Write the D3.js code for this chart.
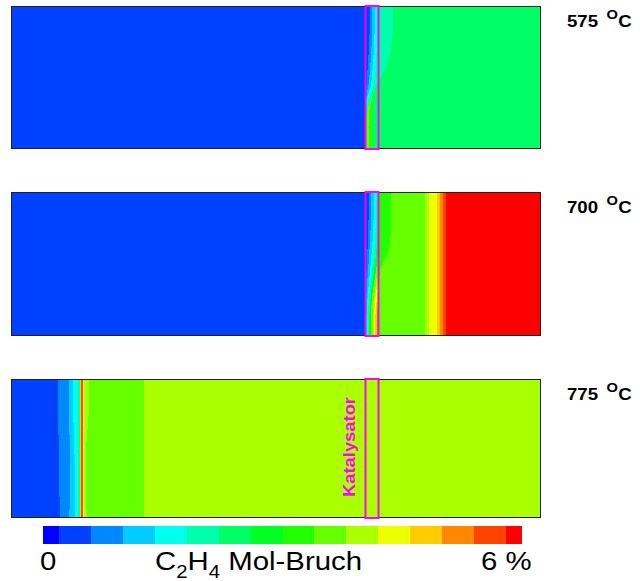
<!DOCTYPE html>
<html><head><meta charset="utf-8">
<script src="https://cdn.jsdelivr.net/npm/d3@7"></script>
<style>body{margin:0;background:#fff}svg{display:block}</style>
</head><body>
<svg id="chart" width="640" height="581"></svg>
<script>
// Colour key: C2H4 mole fraction levels (%) and their fill colours
const levels = d3.range(16).map(i => +(i * 0.4).toFixed(1));
const levelColors = ["#0000ff","#0040ff","#0088ff","#00ccff","#00ffee","#00ffaa","#00ff66","#00ff22",
                     "#22ff00","#66ff00","#aaff00","#eeff00","#ffcc00","#ff8800","#ff4400","#ff0000"];
const keyTicks = ["0", "6 %"];
const temperatures = ["575", "700", "775"];

// Reactor channel: axial length (cm) and catalyst section
const reactorLength = 53;
const catalyst = [35.45, 36.75];

// Radial stations across the channel (0 = upper wall, 1 = lower wall)
const stations = [0, 0.2, 0.4, 0.55, 0.7, 0.85, 1];

// Each zone: C2H4 level (%) and the axial position (cm) of its left edge at every station
const field575 = [
  {level: 0.4, edge: [0, 0, 0, 0, 0, 0, 0]},
  {level: 0.8, edge: [35.9, 35.85, 35.7, 35.55, 35.45, 35.45, 35.45]},
  {level: 1.2, edge: [36.15, 36.1, 35.95, 35.75, 35.45, 35.45, 35.45]},
  {level: 1.6, edge: [36.4, 36.35, 36.2, 36.0, 35.45, 35.45, 35.45]},
  {level: 2.0, edge: [36.65, 36.6, 36.5, 36.3, 35.6, 35.45, 35.45]},
  {level: 3.6, edge: [38.2, 38.15, 37.7, 36.6, 35.75, 35.45, 35.45]},
  {level: 3.2, edge: [38.2, 38.15, 37.7, 36.6, 35.9, 35.75, 35.75]},
  {level: 2.4, edge: [38.2, 38.15, 37.7, 36.6, 36.05, 36.1, 36.2]}
];

const field700 = [
  {level: 0.4, edge: [0, 0, 0, 0, 0, 0, 0]},
  {level: 0.8, edge: [35.8, 35.75, 35.65, 35.55, 35.45, 35.45, 35.45]},
  {level: 1.2, edge: [36.05, 36.0, 35.85, 35.7, 35.55, 35.45, 35.45]},
  {level: 1.6, edge: [36.3, 36.25, 36.1, 35.9, 35.7, 35.55, 35.45]},
  {level: 2.0, edge: [36.55, 36.5, 36.35, 36.1, 35.85, 35.7, 35.65]},
  {level: 2.8, edge: [36.75, 36.7, 36.55, 36.3, 36.0, 35.85, 35.8]},
  {level: 3.6, edge: [36.75, 36.75, 36.7, 36.5, 36.15, 36.0, 35.95]},
  {level: 4.0, edge: [36.75, 36.75, 36.75, 36.65, 36.35, 36.15, 36.15]},
  {level: 4.4, edge: [36.75, 36.75, 36.75, 36.75, 36.5, 36.3, 36.25]},
  {level: 4.8, edge: [36.75, 36.75, 36.75, 36.75, 36.65, 36.45, 36.4]},
  {level: 5.2, edge: [36.75, 36.75, 36.75, 36.75, 36.75, 36.6, 36.55]},
  {level: 3.2, edge: [36.75, 36.75, 36.75, 36.75, 36.75, 36.75, 36.75]},
  {level: 3.6, edge: [38.0, 38.0, 37.8, 36.9, 36.75, 36.75, 36.75]},
  {level: 4.0, edge: [41.4, 41.4, 41.4, 41.4, 41.4, 41.4, 41.4]},
  {level: 4.4, edge: [41.8, 41.8, 41.8, 41.8, 41.8, 41.8, 41.8]},
  {level: 4.8, edge: [42.6, 42.6, 42.6, 42.6, 42.6, 42.6, 42.6]},
  {level: 5.2, edge: [42.9, 42.9, 42.9, 42.9, 42.9, 42.9, 42.9]},
  {level: 5.6, edge: [43.2, 43.2, 43.2, 43.2, 43.2, 43.2, 43.2]},
  {level: 6.0, edge: [43.5, 43.5, 43.5, 43.5, 43.5, 43.5, 43.5]}
];

const field775 = [
  {level: 0.4, edge: [0, 0, 0, 0, 0, 0, 0]},
  {level: 0.8, edge: [4.65, 4.65, 4.75, 4.75, 4.8, 4.85, 4.9]},
  {level: 1.2, edge: [5.8, 5.8, 5.85, 5.9, 5.9, 5.9, 5.8]},
  {level: 1.6, edge: [6.2, 6.2, 6.3, 6.35, 6.4, 6.4, 6.4]},
  {level: 2.0, edge: [6.7, 6.7, 6.7, 6.72, 6.72, 6.72, 6.72]},
  {level: 4.8, edge: [6.9, 6.9, 6.9, 6.9, 6.9, 6.9, 6.9]},
  {level: 5.6, edge: [6.98, 6.98, 6.98, 6.98, 6.98, 6.98, 6.98]},
  {level: 4.4, edge: [7.16, 7.16, 7.16, 7.16, 7.16, 7.16, 7.16]},
  {level: 4.0, edge: [7.25, 7.25, 7.25, 7.25, 7.25, 7.25, 7.25]},
  {level: 3.6, edge: [7.8, 7.8, 7.6, 7.5, 7.5, 7.5, 7.6]},
  {level: 4.0, edge: [13.3, 13.3, 13.25, 13.25, 13.3, 13.3, 13.3]}
];

const fields = [field575, field700, field775];

// ---- layout ----
const panelTops = [6, 192, 379];
const panelHeights = [143, 144, 139];
const textStretch = 1.13;
const fontFamily = "Liberation Sans, Arial, sans-serif";

const svg = d3.select("#chart");
const x = d3.scaleLinear().domain([0, reactorLength]).range([11, 541]);
const color = d3.scaleThreshold()
  .domain(levels.slice(1).map(l => l - 0.2))
  .range(levelColors);

const defs = svg.append("defs");

fields.forEach((field, pi) => {
  const top = panelTops[pi], h = panelHeights[pi];
  const y = d3.scaleLinear().domain([0, 1]).range([top, top + h]);

  defs.append("clipPath").attr("id", "panel" + pi)
    .append("rect").attr("x", x(0)).attr("y", top)
    .attr("width", x(reactorLength) - x(0)).attr("height", h);

  const zones = field.map((z, k) => {
    const right = k + 1 < field.length ? field[k + 1].edge : stations.map(() => reactorLength);
    return {level: z.level, pts: stations.map((s, i) => ({s, a: z.edge[i], b: right[i]}))};
  });

  const area = d3.area()
    .curve(d3.curveMonotoneY)
    .y(d => y(d.s))
    .x0(d => x(d.a))
    .x1(d => x(d.b));

  const g = svg.append("g").attr("clip-path", `url(#panel${pi})`);
  g.selectAll("path").data(zones).join("path")
    .attr("d", d => area(d.pts))
    .attr("fill", d => color(d.level))
    .attr("shape-rendering", "crispEdges");

  // channel wall outline
  svg.append("rect")
    .attr("x", x(0) + 0.5).attr("y", top + 0.5)
    .attr("width", x(reactorLength) - x(0) - 1).attr("height", h - 1)
    .attr("fill", "none").attr("stroke", "#222").attr("stroke-width", 1);

  // catalyst section
  svg.append("rect")
    .attr("x", x(catalyst[0])).attr("y", top)
    .attr("width", x(catalyst[1]) - x(catalyst[0])).attr("height", h)
    .attr("fill", "none").attr("stroke", "#ff00ff").attr("stroke-width", 2);

  // temperature label
  const t = svg.append("text")
    .attr("transform", `translate(567,${top + 20.5}) scale(${textStretch},1)`)
    .attr("font-family", fontFamily)
    .attr("font-weight", "bold").attr("font-size", 16.5).attr("fill", "#000");
  t.append("tspan").text(temperatures[pi]);
  t.append("tspan").attr("dx", 7.5).attr("dy", -7.3).attr("font-size", 13).text("O");
  t.append("tspan").attr("dx", 0.3).attr("dy", 7.3).text("C");
});

// catalyst caption in the lowest panel
svg.append("text")
  .attr("transform", `translate(${x((catalyst[0] + catalyst[1]) / 2) - 17},447) rotate(-90)`)
  .attr("text-anchor", "middle")
  .attr("font-family", fontFamily)
  .attr("font-weight", "bold").attr("font-size", 17)
  .attr("textLength", 100).attr("lengthAdjust", "spacingAndGlyphs")
  .attr("fill", "#ff00ff")
  .text("Katalysator");

// ---- colour key ----
const kx = d3.scaleLinear().domain([0, 6]).range([43, 522]);
svg.append("g").selectAll("rect").data(levels).join("rect")
  .attr("x", d => kx(Math.max(0, d - 0.2)))
  .attr("y", 526)
  .attr("width", d => kx(Math.min(6, d + 0.2)) - kx(Math.max(0, d - 0.2)))
  .attr("height", 18)
  .attr("fill", d => color(d))
  .attr("shape-rendering", "crispEdges");

svg.append("text")
  .attr("transform", `translate(40,570) scale(${textStretch},1)`)
  .attr("font-family", fontFamily).attr("font-size", 26).text(keyTicks[0]);
svg.append("text")
  .attr("transform", `translate(481,570) scale(${textStretch},1)`)
  .attr("font-family", fontFamily).attr("font-size", 26).text(keyTicks[1]);

const title = svg.append("text")
  .attr("transform", `translate(155,570) scale(${textStretch},1)`)
  .attr("font-family", fontFamily).attr("font-size", 26);
title.append("tspan").text("C");
title.append("tspan").attr("font-size", 18).attr("dy", 8).text("2");
title.append("tspan").attr("dy", -8).text("H");
title.append("tspan").attr("font-size", 18).attr("dy", 8).text("4");
title.append("tspan").attr("dy", -8).text(" Mol-Bruch");
</script>
</body></html>
